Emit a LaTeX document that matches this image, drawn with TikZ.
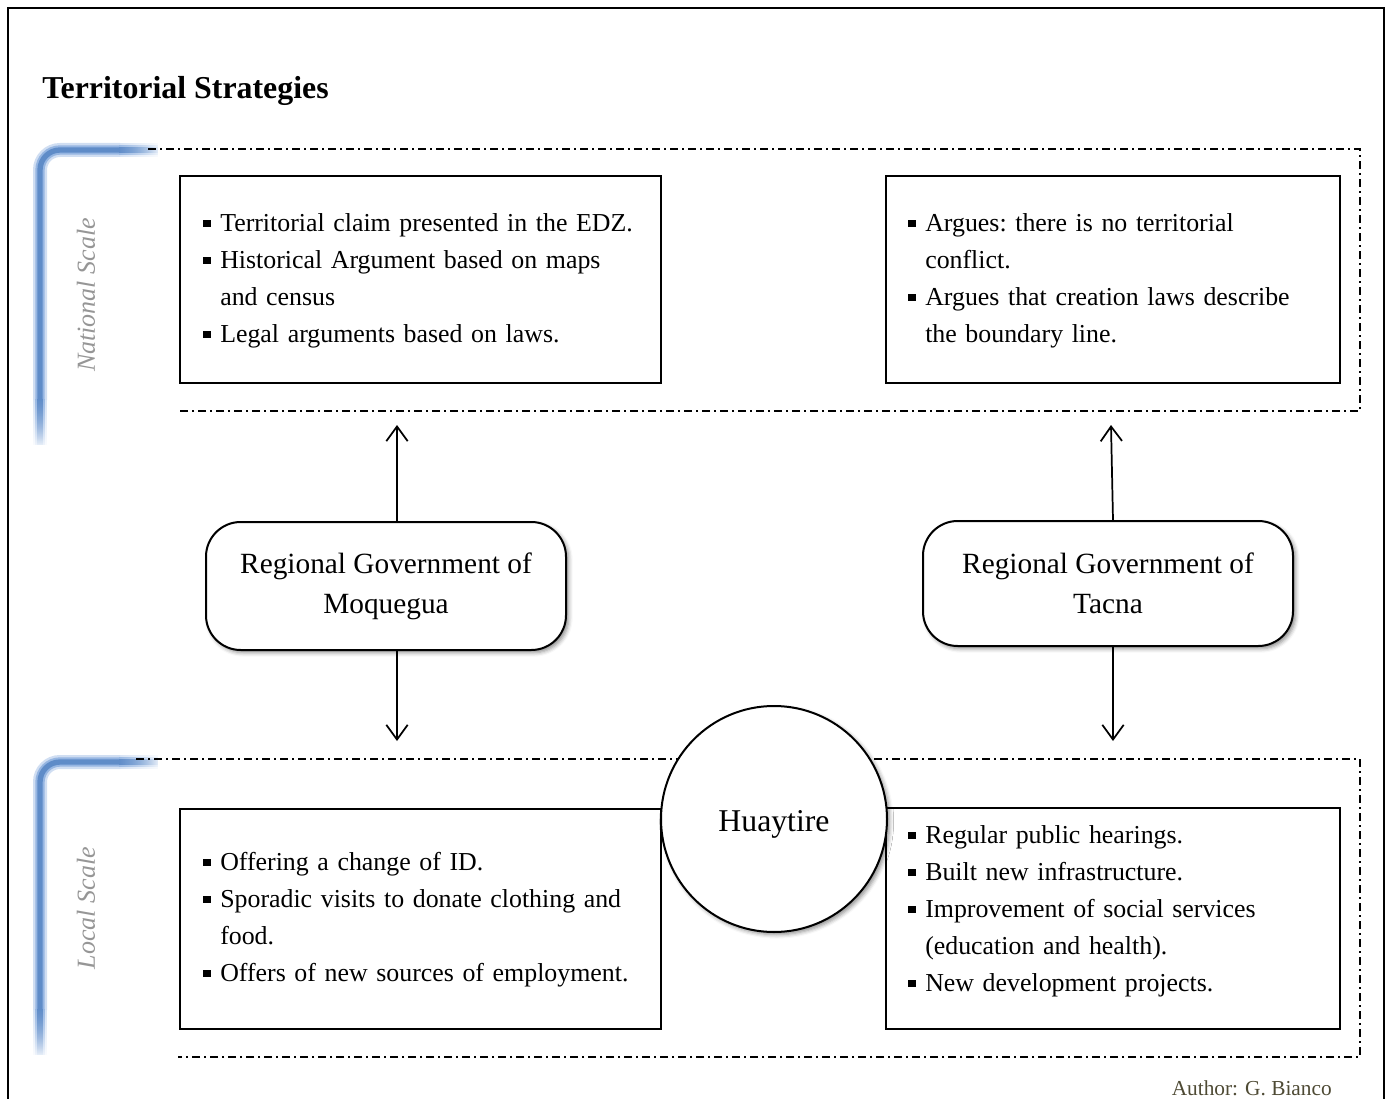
\documentclass[tikz,border=0pt]{standalone}
\usepackage{fontspec}
\setmainfont{Liberation Serif}
\usetikzlibrary{arrows.meta,shadows,shadows.blur,fadings}
\definecolor{brcore}{RGB}{95,140,200}
\definecolor{brmid}{RGB}{150,182,226}
\definecolor{brout}{RGB}{208,222,242}
\definecolor{scalegray}{RGB}{150,150,150}
\definecolor{authorc}{RGB}{78,74,52}
\tikzfading[name=fadesouth, top color=transparent!0, bottom color=transparent!100]
\tikzfading[name=fadeeast, left color=transparent!0, right color=transparent!100]
\newcommand\bitem[1]{\par\noindent\hangindent=12.75pt\hangafter=1\makebox[12.75pt][l]{\raisebox{3pt}{\rule{5.5pt}{5.5pt}}}#1\par}
\tikzset{
  dashdot/.style={line width=1.2pt, dash pattern=on 6pt off 3pt on 1.5pt off 3pt},
  infobox/.style={draw, line width=0.8pt, fill=white, inner sep=0pt},
  bodytext/.style={inner sep=0pt, text width=340pt, align=left, font=\fontsize{19.4pt}{27.75pt}\selectfont\frenchspacing},
  govbox/.style={draw, line width=1.5pt, fill=white, rounded corners=26pt, align=center,
    font=\fontsize{22pt}{30pt}\selectfont,
    blur shadow={shadow xshift=2pt, shadow yshift=-2pt, shadow blur radius=3pt, shadow opacity=45}},
  placecircle/.style={draw, circle, line width=1.5pt, fill=white, minimum size=169.5pt, inner sep=0pt,
    font=\fontsize{23.8pt}{28pt}\selectfont, text depth=2pt,
    blur shadow={shadow xshift=2pt, shadow yshift=-2pt, shadow blur radius=3pt, shadow opacity=45}},
  scalelabel/.style={rotate=90, text=scalegray, font=\fontsize{19.5pt}{24pt}\selectfont\itshape, inner sep=0pt},
  arr/.style={line width=1.3pt, -{Straight Barb[length=11pt, width=16pt, line width=1.3pt]}},
  bracketout/.style={line width=10.5pt, draw=brout},
  bracketmid/.style={line width=7pt, draw=brmid},
  bracketcore/.style={line width=4pt, draw=brcore},
}
\begin{document}
\begin{tikzpicture}[x=0.75pt, y=-0.75pt]
\useasboundingbox (0,0) rectangle (1390,1099);
% outer frame
\draw[line width=1.5pt] (8,1099) -- (8,8) -- (1384,8) -- (1384,1099);
% title
\node[anchor=west, inner sep=0pt, font=\fontsize{23.9pt}{28pt}\selectfont\bfseries] (title) at (42,91) {Territorial Strategies};

% blue brackets
\foreach \yt/\yb in {150/445, 762/1055}{
  \foreach \st in {bracketout, bracketmid, bracketcore}{
    \draw[\st, rounded corners=15pt] (40,\yb-45) |- (120,\yt);
    \draw[\st, path fading=fadesouth] (40,\yb-46) -- (40,\yb);
    \draw[\st, path fading=fadeeast] (119,\yt) -- (158,\yt);
  }
}
\node[scalelabel] (natl) at (86,295) {National Scale};
\node[scalelabel] (locl) at (86,908) {Local Scale};

% dash-dot regions
\draw[dashdot] (148,149) -- (1360,149) -- (1360,411) -- (180,411);
\draw[dashdot] (136,759) -- (1360,759) -- (1360,1057) -- (178,1057);

% information boxes
\node[infobox, minimum width=360.75pt, minimum height=155.25pt] (ulbox) at (420.5,279.5) {};
\node[infobox, minimum width=340.5pt, minimum height=155.25pt] (urbox) at (1113,279.5) {};
\node[infobox, minimum width=360.75pt, minimum height=165pt] (llbox) at (420.5,919) {};
\node[infobox, minimum width=340.5pt, minimum height=165.75pt] (lrbox) at (1113,918.5) {};

\node[bodytext, anchor=north west] (ultext) at (203,194) {%
\bitem{Territorial claim presented in the EDZ.}
\bitem{Historical Argument based on maps\newline and census}
\bitem{Legal arguments based on laws.}};
\node[bodytext, anchor=north west] (urtext) at (908,194) {%
\bitem{Argues: there is no territorial\newline conflict.}
\bitem{Argues that creation laws describe\newline the boundary line.}};
\node[bodytext, anchor=north west] (lltext) at (203,833) {%
\bitem{Offering a change of ID.}
\bitem{Sporadic visits to donate clothing and\newline food.}
\bitem{Offers of new sources of employment.}};
\node[bodytext, anchor=north west] (lrtext) at (908,806) {%
\bitem{Regular public hearings.}
\bitem{Built new infrastructure.}
\bitem{Improvement of social services\newline (education and health).}
\bitem{New development projects.}};

% regional governments
\node[govbox, minimum width=270pt, minimum height=96pt] (moq) at (386,586) {Regional Government of\\Moquegua};
\node[govbox, minimum width=277.5pt, minimum height=93.75pt] (tac) at (1108,583.5) {Regional Government of\\Tacna};

% arrows
\coordinate (mU) at (397,425);
\coordinate (mD) at (397,741);
\coordinate (tU) at (1111,425);
\coordinate (tD) at (1113,741);
\draw[arr] (mU |- moq.north) -- (mU);
\draw[arr] (mD |- moq.south) -- (mD);
\draw[arr] (tD |- tac.north) -- (tU);
\draw[arr] (tD |- tac.south) -- (tD);

% Huaytire
\node[placecircle, text height=21pt] (huay) at (774,819) {Huaytire};

% author
\node[anchor=east, inner sep=0pt, text=authorc, font=\fontsize{16pt}{19pt}\selectfont] (author) at (1332,1088) {Author: G. Bianco};
\end{tikzpicture}
\end{document}
